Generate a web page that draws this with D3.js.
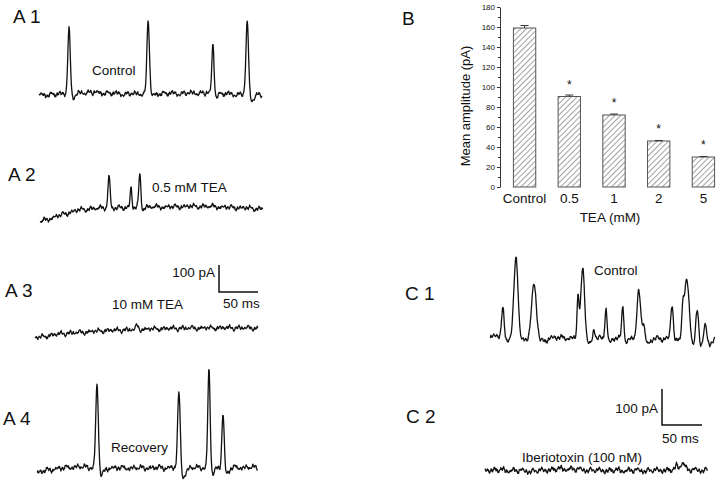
<!DOCTYPE html>
<html>
<head>
<meta charset="utf-8">
<script src="https://cdn.jsdelivr.net/npm/d3@7"></script>
<style>
    body { margin: 0; background: #fff; }
    text { font-family: "Liberation Sans", Arial, sans-serif; fill: #111; }
    .trace { fill: none; stroke: #111; stroke-width: 1.3; stroke-linejoin: round; }
    .scalebar { fill: none; stroke: #111; stroke-width: 1.5; }
    .bar { stroke: #555; stroke-width: 1; }
    .axis path, .axis line { stroke: #333; }
</style>
</head>
<body>
<div id="chart"></div>
<script>
(function(){

//bar chart data (panel B)
var categories = ["Control", "0.5", "1", "2", "5"];
var meanAmp = [159, 90.5, 72, 46, 30];
var semAmp = [2.5, 1.5, 1, 0.5, 0.5];
var significant = [false, true, true, true, true];
var yTicks = [0, 20, 40, 60, 80, 100, 120, 140, 160, 180];

//spike events: [time ms, amplitude pA, width ms, undershoot pA]
var a1Spikes = [[38.5, 250, 1.6, 18], [140, 278, 1.6, 10], [223, 185, 1.4, 10], [267, 270, 1.7, 22]];
var a2Spikes = [[88.5, 122, 1.4, 5], [116.7, 74, 1.1, 5], [128, 126, 1.3, 8]];
var a3Spikes = [[131, 15, 1.5, 0]];
var a4Spikes = [[77, 315, 1.7, 30], [182, 285, 1.7, 35], [220.5, 370, 1.5, 25], [238.5, 207, 1.5, 25]];
var c1Spikes = [[16, 83, 1.5, 10], [32.5, 222, 2.6, 12], [55, 150, 3.0, 12], [110, 117, 1.2, 0],
    [116, 197, 2.4, 15], [130, 30, 1.2, 0], [145, 86, 1.4, 12], [166, 97, 1.3, 10],
    [186, 130, 2.2, 0], [192, 45, 1.8, 15], [227.5, 97, 1.6, 8], [241, 70, 1.4, 0],
    [246, 170, 3.0, 20], [259, 97, 1.8, 10], [269, 50, 1.8, 15]];
var c2Spikes = [[240, 12, 1.5, 0], [247, 22, 2.5, 0]];

//slow baseline drift: [time ms, pA]
var a1Drift = [[0, -5], [60, 5], [120, 0], [200, 3], [286, -3]];
var a2Drift = [[0, -55], [26, -30], [51, -11], [77, -4], [140, 0], [220, 2], [286, -8]];
var a3Drift = [[0, -37], [32, -22], [83, -11], [147, -4], [210, 0], [286, 0]];
var a4Drift = [[0, -18], [20, -5], [50, 5], [77, 0], [140, 0], [283, 2]];
var c1Drift = [[0, 5], [100, 0], [281, -3]];
var c2Drift = [[0, 0], [60, -3], [100, 3], [150, -2], [278, 0]];

//recording noise, typed as a short sample that is reused along every trace
var noise = [0.1,0.5,0.2,0.8,0.6,1.0,0.7,0.9,0.3,0.5,
    -0.1,0.2,-0.4,-0.2,-0.8,-0.5,-1.0,-0.6,-0.9,-0.3,
    -0.5,0.1,-0.2,0.4,0.2,0.7,0.4,0.9,0.5,0.6,
    0.1,0.3,-0.3,0.0,-0.6,-0.3,-0.7,-0.2,-0.5,0.0,
    -0.2,0.3,0.1,0.6,0.3,0.8,1.0,0.6,0.8,0.2,
    0.4,-0.2,0.1,-0.5,-0.2,-0.8,-0.4,-0.9,-0.6,-1.0,
    -0.5,-0.7,-0.1,-0.4,0.2,-0.1,0.5,0.2,0.7,0.3,
    0.6,0.1,0.3,-0.2,0.0,-0.5,-0.1,-0.6,-0.2,-0.4,
    0.1,-0.1,0.4,0.2,0.8,0.5,0.9,0.6,0.4,0.7,
    0.1,0.3,-0.3,-0.1,-0.7,-0.4,-0.9,-0.5,-0.8,-0.3,
    -0.6,0.0,-0.3,0.3,0.1,0.6,0.2,0.5,0.8,0.4,
    0.6,0.0,0.3,-0.4,-0.1,-0.6,-0.2,-0.3,0.2,-0.1];

window.onload = setFigure;

function setFigure(){

    var svg = d3.select("#chart")
        .append("svg")
        .attr("width", 720)
        .attr("height", 492);

    svg.append("rect")
        .attr("width", 720)
        .attr("height", 492)
        .attr("fill", "#fff");

    //panel A: 100 pA = 27 px, 50 ms = 39 px
    var aPxPerMs = 0.78, aPxPerPa = 0.27;
    drawTrace(svg, 39, 94, 286, aPxPerMs, aPxPerPa, a1Drift, a1Spikes, 11, 0);
    drawTrace(svg, 40, 207, 286, aPxPerMs, aPxPerPa, a2Drift, a2Spikes, 10, 37);
    drawTrace(svg, 35, 328, 286, aPxPerMs, aPxPerPa, a3Drift, a3Spikes, 10, 71);
    drawTrace(svg, 37, 468, 283, aPxPerMs, aPxPerPa, a4Drift, a4Spikes, 11, 103);
    drawScaleBar(svg, 219, 292, aPxPerMs, aPxPerPa, 215, 277, 223, 308);

    //panel C: 100 pA = 36 px, 50 ms = 40 px
    var cPxPerMs = 0.8, cPxPerPa = 0.36;
    drawTrace(svg, 490, 338, 281, cPxPerMs, cPxPerPa, c1Drift, c1Spikes, 8, 17);
    drawTrace(svg, 485, 470, 278, cPxPerMs, cPxPerPa, c2Drift, c2Spikes, 9, 88);
    drawScaleBar(svg, 662, 425, cPxPerMs, cPxPerPa, 658, 413, 662, 443);

    //panel labels
    var labels = [["A 1", 13, 23], ["A 2", 8, 181], ["A 3", 5, 297], ["A 4", 3, 425],
        ["B", 402, 25], ["C 1", 405, 300], ["C 2", 406, 423]];
    svg.selectAll(".panelLabel")
        .data(labels)
        .enter()
        .append("text")
        .attr("class", "panelLabel")
        .attr("x", function(d){ return d[1]; })
        .attr("y", function(d){ return d[2]; })
        .style("font-size", "19px")
        .text(function(d){ return d[0]; });

    //trace captions
    var captions = [["Control", 92, 75], ["0.5 mM TEA", 152, 192], ["10 mM TEA", 112, 309],
        ["Recovery", 111, 452], ["Control", 594, 275], ["Iberiotoxin (100 nM)", 522, 462]];
    svg.selectAll(".caption")
        .data(captions)
        .enter()
        .append("text")
        .attr("class", "caption")
        .attr("x", function(d){ return d[1]; })
        .attr("y", function(d){ return d[2]; })
        .style("font-size", "13.5px")
        .text(function(d){ return d[0]; });

    setBarChart(svg);
};

//build one current trace from drift, spikes and noise, then draw it
function drawTrace(svg, x0, y0, duration, pxPerMs, pxPerPa, drift, spikes, noiseScale, shift){

    var x = d3.scaleLinear().domain([0, duration]).range([x0, x0 + duration * pxPerMs]);
    var y = d3.scaleLinear().domain([0, 100]).range([y0, y0 - 100 * pxPerPa]);
    var base = d3.scaleLinear()
        .domain(drift.map(function(d){ return d[0]; }))
        .range(drift.map(function(d){ return d[1]; }));

    var n = noise.length;
    var step = 0.6;
    var pts = [];
    for (var i = 0; i * step <= duration; i++){
        var t = i * step;
        //slow wobble plus fast jitter, both read from the same noise sample
        var v = base(t)
            + noise[(i + shift) % n] * noiseScale * 0.75
            + noise[(i * 37 + shift * 3) % n] * noiseScale * 0.6;
        spikes.forEach(function(s){
            var z = (t - s[0]) / s[2];
            v += s[1] * Math.exp(-z * z / 2);
            var w = (t - s[0] - 3 * s[2]) / (2 * s[2]);
            v -= s[3] * Math.exp(-w * w / 2);
        });
        pts.push([t, v]);
    }

    var line = d3.line()
        .x(function(d){ return x(d[0]); })
        .y(function(d){ return y(d[1]); });

    svg.append("path")
        .datum(pts)
        .attr("class", "trace")
        .attr("d", line);
};

//L-shaped calibration bar: 100 pA up, 50 ms across
function drawScaleBar(svg, cx, cy, pxPerMs, pxPerPa, paX, paY, msX, msY){

    var x = d3.scaleLinear().domain([0, 50]).range([cx, cx + 50 * pxPerMs]);
    var y = d3.scaleLinear().domain([0, 100]).range([cy, cy - 100 * pxPerPa]);

    svg.append("path")
        .attr("class", "scalebar")
        .attr("d", "M" + x(0) + "," + y(100) + "V" + y(0) + "H" + x(50));

    svg.append("text")
        .attr("x", paX)
        .attr("y", paY)
        .attr("text-anchor", "end")
        .style("font-size", "13.5px")
        .text("100 pA");

    svg.append("text")
        .attr("x", msX)
        .attr("y", msY)
        .style("font-size", "13.5px")
        .text("50 ms");
};

//PANEL B BAR CHART
function setBarChart(svg){

    //hatch pattern
    var pattern = svg.append("defs")
        .append("pattern")
        .attr("id", "hatch")
        .attr("patternUnits", "userSpaceOnUse")
        .attr("width", 4)
        .attr("height", 4)
        .attr("patternTransform", "rotate(45)");
    pattern.append("rect")
        .attr("width", 4)
        .attr("height", 4)
        .attr("fill", "#fff");
    pattern.append("line")
        .attr("x1", 0).attr("y1", 0)
        .attr("x2", 0).attr("y2", 4)
        .attr("stroke", "#444")
        .attr("stroke-width", 1);

    var x = d3.scaleBand()
        .domain(categories)
        .range([500, 728])
        .paddingInner(0.5)
        .paddingOuter(0.3);

    var y = d3.scaleLinear()
        .domain([0, 180])
        .range([187, 7]);

    //minor ticks
    var minor = d3.range(10, 180, 20);
    svg.append("g")
        .attr("class", "axis")
        .attr("transform", "translate(500,0)")
        .call(d3.axisLeft(y).tickValues(minor).tickSize(2).tickFormat(""))
        .select(".domain").remove();

    var yAxis = svg.append("g")
        .attr("class", "axis")
        .attr("transform", "translate(500,0)")
        .call(d3.axisLeft(y).tickValues(yTicks).tickSize(3).tickPadding(2).tickSizeOuter(0));
    yAxis.selectAll("text")
        .style("font-size", "8px")
        .style("font-family", "Liberation Sans, Arial, sans-serif");

    //bars
    svg.selectAll(".bar")
        .data(meanAmp)
        .enter()
        .append("rect")
        .attr("class", "bar")
        .attr("x", function(d, i){ return x(categories[i]); })
        .attr("y", function(d){ return y(d); })
        .attr("width", x.bandwidth())
        .attr("height", function(d){ return y(0) - y(d); })
        .attr("fill", "url(#hatch)");

    //error whiskers
    var err = svg.selectAll(".err")
        .data(meanAmp)
        .enter()
        .append("g")
        .attr("class", "err")
        .attr("stroke", "#333")
        .attr("stroke-width", 1);
    err.append("line")
        .attr("x1", function(d, i){ return x(categories[i]) + x.bandwidth() / 2; })
        .attr("x2", function(d, i){ return x(categories[i]) + x.bandwidth() / 2; })
        .attr("y1", function(d){ return y(d); })
        .attr("y2", function(d, i){ return y(d + semAmp[i]); });
    err.append("line")
        .attr("x1", function(d, i){ return x(categories[i]) + x.bandwidth() / 2 - 4; })
        .attr("x2", function(d, i){ return x(categories[i]) + x.bandwidth() / 2 + 4; })
        .attr("y1", function(d, i){ return y(d + semAmp[i]); })
        .attr("y2", function(d, i){ return y(d + semAmp[i]); });

    //significance asterisks
    svg.selectAll(".star")
        .data(meanAmp.filter(function(d, i){ return significant[i]; }))
        .enter()
        .append("text")
        .attr("class", "star")
        .attr("text-anchor", "middle")
        .attr("x", function(d){ return x(categories[meanAmp.indexOf(d)]) + x.bandwidth() / 2; })
        .attr("y", function(d){ return y(d) - 8; })
        .style("font-size", "12px")
        .text("*");

    //category labels
    svg.selectAll(".catLabel")
        .data(categories)
        .enter()
        .append("text")
        .attr("class", "catLabel")
        .attr("text-anchor", "middle")
        .attr("x", function(d){ return x(d) + x.bandwidth() / 2; })
        .attr("y", 203)
        .style("font-size", "13.5px")
        .text(function(d){ return d; });

    svg.append("text")
        .attr("text-anchor", "middle")
        .attr("x", 610)
        .attr("y", 222)
        .style("font-size", "13.5px")
        .text("TEA (mM)");

    svg.append("text")
        .attr("text-anchor", "middle")
        .attr("transform", "translate(470,106) rotate(-90)")
        .style("font-size", "13px")
        .text("Mean amplitude (pA)");
};

})();
</script>
</body>
</html>
